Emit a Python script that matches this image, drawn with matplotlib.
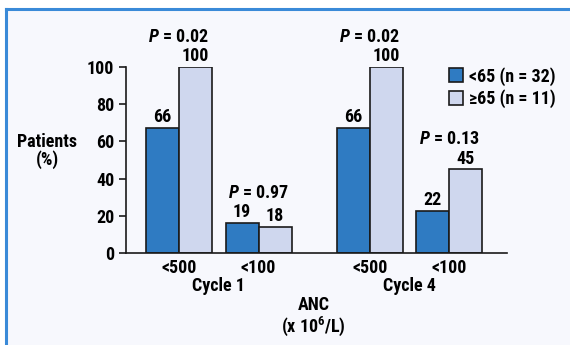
import matplotlib
matplotlib.use("Agg")
import matplotlib.pyplot as plt
from matplotlib.patches import Rectangle
import numpy as np

# ---- data ----
groups = ["<500", "<100", "<500", "<100"]
cycles = ["Cycle 1", "Cycle 4"]
young_vals = [67, 16, 67, 22.5]      # bar heights as drawn
old_vals = [100, 14, 100, 45]
young_labels = ["66", "19", "66", "22"]
old_labels = ["100", "18", "100", "45"]
p_values = ["0.02", "0.97", "0.02", "0.13"]
series_names = ["<65 (n = 32)", "\u226565 (n = 11)"]
y_ticks = [0, 20, 40, 60, 80, 100]

FAM = ["Roboto Condensed", "Archivo Narrow", "PT Sans Narrow", "Liberation Sans Narrow",
       "Liberation Sans", "DejaVu Sans"]
plt.rcParams["font.family"] = FAM
plt.rcParams["font.weight"] = "bold"
plt.rcParams["mathtext.fontset"] = "custom"
plt.rcParams["mathtext.rm"] = "Roboto Condensed:bold"
plt.rcParams["mathtext.it"] = "Roboto Condensed:italic:bold"
plt.rcParams["mathtext.bf"] = "Roboto Condensed:bold"

W, H = 570, 345
fig = plt.figure(figsize=(W / 100, H / 100), dpi=100)
fig.patch.set_facecolor("white")

fig.patches.append(Rectangle((6 / W, 0), 1 - 6 / W, 1 - 9 / H, transform=fig.transFigure,
                             facecolor="#f7f8fd", edgecolor="none", zorder=-5))
fig.add_artist(plt.Line2D([6 / W, 6 / W], [0, 1 - 9 / H], transform=fig.transFigure,
                          color="#3a8ad8", lw=2.2, zorder=-4))
fig.add_artist(plt.Line2D([6 / W, 1], [1 - 9 / H, 1 - 9 / H], transform=fig.transFigure,
                          color="#3a8ad8", lw=2.2, zorder=-4))

ax = fig.add_axes([126 / W, 1 - 253 / H, (507 - 126) / W, (253 - 67) / H])
ax.set_facecolor("none")

centers = np.array([0, 1, 2.4, 3.4])
bw = 0.415
dark = "#2f7bc2"
light = "#cfd7ee"
edge = "#1a1a1a"

ax.bar(centers - bw / 2, young_vals, bw, color=dark, edgecolor=edge, linewidth=1.2,
       label=series_names[0], zorder=2)
ax.bar(centers + bw / 2, old_vals, bw, color=light, edgecolor=edge, linewidth=1.2,
       label=series_names[1], zorder=2)

fs = 13
for c, yv, ov, yl, ol, p in zip(centers, young_vals, old_vals, young_labels, old_labels, p_values):
    ax.text(c - bw / 2, yv + 3.2, yl, ha="center", va="baseline", fontsize=fs)
    ax.text(c + bw / 2, ov + 3.0, ol, ha="center", va="baseline", fontsize=fs)
    top = max(yv, ov)
    ax.text(c, top + 13.6, r"$P$ = " + p, ha="center", va="baseline", fontsize=fs)

ax.set_xlim(-0.667, 4.126)
ax.set_ylim(0, 100)
ax.set_yticks(y_ticks)
ax.set_yticklabels([str(t) for t in y_ticks], fontsize=fs)
ax.set_xticks(centers)
ax.set_xticklabels(groups, fontsize=fs)
ax.tick_params(axis="x", length=0, pad=4)
ax.tick_params(axis="y", length=5, width=1.2, pad=3.5, color=edge)
for s in ["top", "right"]:
    ax.spines[s].set_visible(False)
for s in ["left", "bottom"]:
    ax.spines[s].set_linewidth(1.2)
    ax.spines[s].set_color(edge)

for i, cyc in enumerate(cycles):
    mid = (centers[2 * i] + centers[2 * i + 1]) / 2
    fig.text(ax.transData.transform((mid, 0))[0] / W, 1 - 286 / H, cyc, ha="center",
             va="center", fontsize=fs)

fig.text(313.5 / W, 1 - 317 / H, "ANC\n" + r"(x 10$^{6}$/L)", ha="center", va="center",
         fontsize=fs, linespacing=1.0, multialignment="center")
fig.text(47.5 / W, 1 - 151 / H, "Patients\n(%)", ha="center", va="center", fontsize=fs,
         linespacing=1.0)

leg = ax.legend(loc="upper left", bbox_to_anchor=(449 / W, 1 - 67 / H),
                bbox_transform=fig.transFigure, frameon=False, fontsize=fs,
                handlelength=0.8, handleheight=0.8, handletextpad=0.3, labelspacing=0.2,
                borderaxespad=0, borderpad=0)

fig.savefig("out.png", dpi=100, facecolor=fig.get_facecolor())
